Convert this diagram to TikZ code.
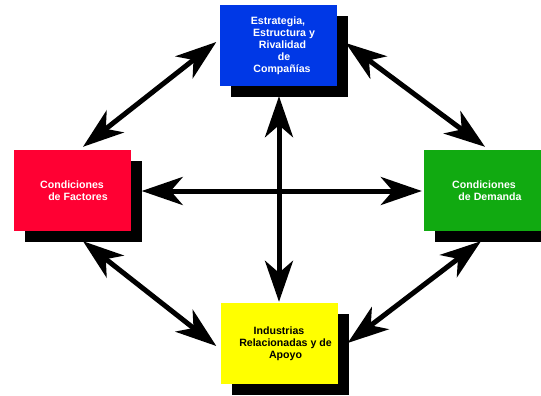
\documentclass[tikz,border=0pt]{standalone}
\usepackage{fontspec}
\setmainfont{Liberation Sans}
\usepackage{tikz}
\usetikzlibrary{arrows.meta}
\usetikzlibrary{shadows}
\usetikzlibrary{calc}

\definecolor{azul}{RGB}{0,56,230}
\definecolor{rojo}{RGB}{255,0,51}
\definecolor{verde}{RGB}{17,170,17}
\definecolor{amarillo}{RGB}{255,255,0}

\begin{document}
\begin{tikzpicture}[
        x=1pt, y=-1pt,
        box/.style={minimum width=117pt, minimum height=81pt, inner sep=0pt,
            align=center, font=\fontsize{10.6}{12}\selectfont\bfseries,
            general shadow={fill=black, shadow xshift=11pt, shadow yshift=-11pt}},
        dbl/.style={line width=5pt,
            {Stealth[length=41pt, width=28pt, inset=12pt]}-{Stealth[length=41pt, width=28pt, inset=12pt]}},
    ]

    \useasboundingbox (0,0) rectangle (541,396);

    \node[box, fill=azul, text=white] (str) at (278,45.5)
        {Estrategia,\\ \hspace*{12pt}Estructura y\\ \hspace*{9pt}Rivalidad\\ \hspace*{12pt}de\\ \hspace*{8pt}Compañías};
    \node[box, fill=rojo, text=white] (fac) at (72,190.5)
        {Condiciones\\ \hspace*{12pt}de Factores};
    \node[box, fill=verde, text=white] (dem) at (482.5,190.5)
        {\hspace*{3pt}Condiciones\\ \hspace*{15pt}de Demanda};
    \node[box, fill=amarillo, text=black] (ind) at (279,343.5)
        {Industrias\\ \hspace*{13pt}Relacionadas y de\\ \hspace*{13pt}Apoyo};

    % cruz central
    \draw[dbl] ($(fac.east) + (11,0.5)$) -- ($(dem.west) + (-2,0.5)$);
    \draw[dbl] ($(ind.north) + (0,-1)$) -- ($(ind.north |- str.south) + (0,10)$);

    % diagonales
    \draw[dbl] ($(str.west) + (-3,-3.5)$) -- ($(fac.north) + (11,-3)$);
    \draw[dbl] ($(str.east) + (9,-2.5)$) -- ($(dem.north) + (2.5,-3)$);
    \draw[dbl] ($(fac.south) + (11,10)$) -- ($(ind.west) + (-4,2.5)$);
    \draw[dbl] ($(dem.south) + (-1.5,10)$) -- ($(ind.east) + (10,-0.5)$);

\end{tikzpicture}
\end{document}
